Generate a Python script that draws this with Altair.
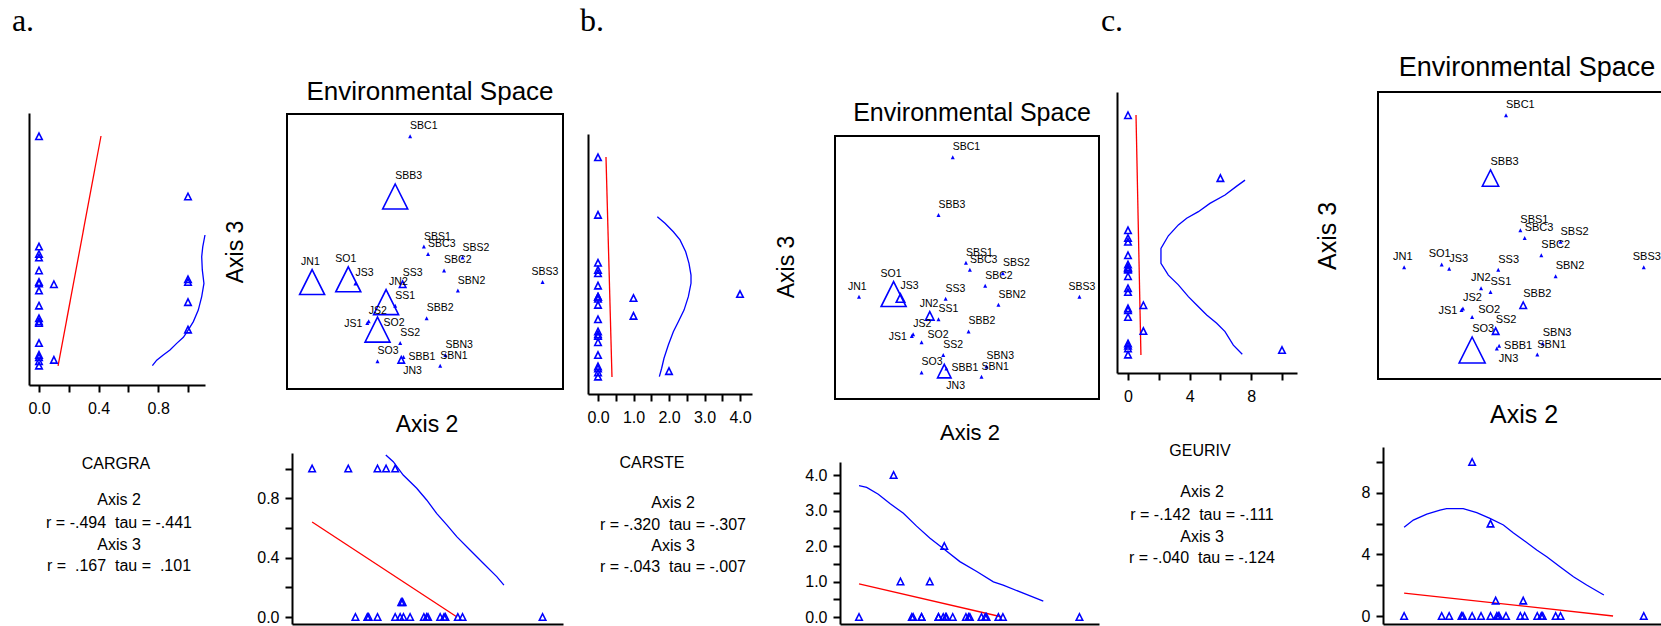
import json
import math
import altair as alt
import pandas as pd

FONT = "Liberation Sans"
SERIF = "Liberation Serif"
BLUE = "#0000ff"
RED = "#ff0000"
TRI = "M0,-1L1,1L-1,1Z"
W, H = 1661, 626

# ---------------- data ----------------
sites = ["JN1", "JN2", "JN3", "JS1", "JS2", "JS3", "SO1", "SO2", "SO3", "SS1", "SS2", "SS3",
         "SBC1", "SBC2", "SBC3", "SBB1", "SBB2", "SBB3", "SBS1", "SBS2", "SBS3", "SBN1", "SBN2", "SBN3"]
axis2 = [9.1, 35.9, 41.4, 29.1, 29.6, 24.8, 22.2, 32.8, 32.8, 39.2, 41.0, 41.9,
         44.6, 56.9, 51.1, 42.2, 50.6, 39.2, 49.6, 63.6, 92.6, 55.5, 61.9, 57.4]
axis3 = [38.9, 31.6, 10.6, 24.0, 24.6, 38.4, 39.9, 21.6, 10.1, 30.3, 16.7, 38.1,
         91.9, 43.1, 49.1, 11.6, 25.7, 70.0, 51.8, 47.8, 38.9, 8.5, 35.8, 12.4]
cargra = [1, 1, 0.1, 0, 0, 0, 1, 1, 0, 0, 0, 0.1, 0, 0, 0, 0, 0, 1, 0, 0, 0, 0, 0, 0]
carste = [0, 1, 2, 0, 0, 1, 4, 0, 0, 0, 0, 0, 0, 0, 0, 0, 0, 0, 0, 0, 0, 0, 0, 0]
geuriv = [0, 0, 0, 0, 0, 0, 0, 0, 10, 0, 1, 0, 0, 0, 0, 0, 1, 6, 0, 0, 0, 0, 0, 0]

# regression (red) and smoother (blue) lines
a_vred_x, a_vred_y = [0.128, 0.416], [8.4, 92.0]
a_vblue_x = [0.761, 0.790, 0.834, 0.879, 0.924, 0.969, 1.002, 1.036, 1.069, 1.092, 1.107, 1.096, 1.092, 1.099, 1.114]
a_vblue_y = [8.5, 10.5, 12.4, 14.2, 16.6, 18.8, 21.5, 24.5, 28.7, 33.6, 38.4, 43.3, 48.1, 51.7, 56.0]
a_bred_x, a_bred_y = [9.1, 61.6], [0.64, 0.0]
a_bblue_x = [35.8, 38.5, 42.1, 47.0, 50.6, 54.2, 57.9, 61.5, 66.3, 71.1, 76.0, 78.6]
a_bblue_y = [1.091, 1.046, 0.956, 0.867, 0.788, 0.698, 0.620, 0.541, 0.451, 0.362, 0.272, 0.215]

b_vred_x, b_vred_y = [0.225, 0.394], [92.0, 8.4]
b_vblue_x = [1.671, 1.887, 2.122, 2.310, 2.470, 2.563, 2.620, 2.620, 2.545, 2.423, 2.263, 2.122, 1.981, 1.859, 1.793, 1.728]
b_vblue_y = [69.3, 66.8, 63.6, 60.5, 56.0, 51.6, 47.1, 44.0, 38.9, 33.8, 29.4, 25.6, 20.5, 15.5, 11.7, 8.5]
b_bred_x, b_bred_y = [9.1, 63.3], [0.93, 0.0]
b_bblue_x = [9.1, 12.0, 16.4, 20.8, 25.9, 30.9, 36.0, 41.0, 47.3, 53.7, 60.0, 63.7, 71.3, 78.9]
b_bblue_y = [3.70, 3.65, 3.46, 3.20, 2.92, 2.56, 2.22, 1.93, 1.56, 1.28, 0.99, 0.90, 0.67, 0.45]

c_vred_x, c_vred_y = [0.52, 0.84], [92.0, 8.4]
c_vblue_x = [7.60, 7.06, 6.30, 5.32, 4.57, 3.81, 3.27, 2.62, 2.14, 2.14, 2.62, 3.27, 3.92, 4.46, 5.11, 5.76, 6.30, 6.84, 7.42]
c_vblue_y = [69.3, 67.2, 64.1, 61.2, 58.3, 56.0, 53.7, 49.9, 45.5, 40.3, 36.2, 32.8, 28.7, 25.8, 22.3, 19.4, 16.5, 11.8, 8.6]
c_bred_x, c_bred_y = [9.1, 81.9], [1.49, 0.0]
c_bblue_x = [9.1, 12.3, 17.0, 21.6, 23.9, 29.7, 34.4, 39.0, 43.7, 47.1, 50.6, 55.3, 58.8, 63.4, 68.1, 72.7, 78.7]
c_bblue_y = [5.76, 6.23, 6.62, 6.88, 6.97, 6.97, 6.71, 6.34, 5.91, 5.41, 4.94, 4.29, 3.85, 3.20, 2.55, 2.01, 1.36]

texts_a = ["CARGRA", "Axis 2", "r = -.494  tau = -.441", "Axis 3", "r =  .167  tau =  .101"]
texts_b = ["CARSTE", "Axis 2", "r = -.320  tau = -.307", "Axis 3", "r = -.043  tau = -.007"]
texts_c = ["GEURIV", "Axis 2", "r = -.142  tau = -.111", "Axis 3", "r = -.040  tau = -.124"]

# ---------------- layout (pixels) ----------------
GROUPS = [
    dict(letter="a.", var=cargra, vmax=1.0, smax=625, texts=texts_a,
         vred=(a_vred_x, a_vred_y), vblue=(a_vblue_x, a_vblue_y),
         bred=(a_bred_x, a_bred_y), bblue=(a_bblue_x, a_bblue_y),
         ex0=287, exppu=2.76, ey0=389, eyppu=2.75,
         vx=(29, 205), v0=39, vppu=149.0, vy=(113, 385),
         bx=(292, 563), b0=617, bppu=148.5, by=(453, 624),
         ticks=[0, 0.2, 0.4, 0.6, 0.8, 1.0], labeled=[0, 0.4, 0.8], fmt=".1f",
         letter_x=23, title=(430, 92, 26), ax3=(236, 252, 23), ax2=(427, 425, 23),
         name_xy=(116, 464), stat_x=119, stat_y=[500, 523, 545, 566], lab_fs=10.5),
    dict(letter="b.", var=carste, vmax=4.0, smax=625, texts=texts_b,
         vred=(b_vred_x, b_vred_y), vblue=(b_vblue_x, b_vblue_y),
         bred=(b_bred_x, b_bred_y), bblue=(b_bblue_x, b_bblue_y),
         ex0=835, exppu=2.64, ey0=399, eyppu=2.63,
         vx=(588, 752), v0=598, vppu=35.5, vy=(134, 394),
         bx=(840, 1099), b0=617, bppu=35.5, by=(462, 624),
         ticks=[0, 0.5, 1.0, 1.5, 2.0, 2.5, 3.0, 3.5, 4.0], labeled=[0, 1, 2, 3, 4], fmt=".1f",
         letter_x=592, title=(972, 113, 25), ax3=(787, 267, 23), ax2=(970, 433, 22),
         name_xy=(652, 463), stat_x=673, stat_y=[503, 525, 546, 567], lab_fs=10.5),
    dict(letter="c.", var=geuriv, vmax=10.0, smax=676, texts=texts_c,
         vred=(c_vred_x, c_vred_y), vblue=(c_vblue_x, c_vblue_y),
         bred=(c_bred_x, c_bred_y), bblue=(c_bblue_x, c_bblue_y),
         ex0=1378, exppu=2.87, ey0=379, eyppu=2.87,
         vx=(1117, 1297), v0=1128, vppu=15.4, vy=(92, 373),
         bx=(1383, 1665), b0=616, bppu=15.4, by=(447, 624),
         ticks=[0, 2, 4, 6, 8, 10], labeled=[0, 4, 8], fmt="d",
         letter_x=1112, title=(1527, 68, 27), ax3=(1328, 236, 25), ax2=(1524, 415, 25),
         name_xy=(1200, 451), stat_x=1202, stat_y=[492, 515, 537, 558], lab_fs=11),
]


def scale(dom, rng):
    return alt.Scale(domain=list(dom), range=list(rng), nice=False, zero=False)


def tick_axis(orient, offset, ticks, labeled, fmt, pad):
    expr = "indexof(%s, datum.value) >= 0 ? format(datum.value, '%s') : ''" % (json.dumps(labeled), fmt)
    return alt.Axis(orient=orient, offset=offset, values=ticks, labelExpr=expr, title=None,
                    grid=False, domainColor="black", domainWidth=2, tickColor="black",
                    tickWidth=2, tickSize=7, labelFont=FONT, labelFontSize=16,
                    labelColor="black", labelPadding=pad, labelOverlap=False, labelFlush=False)


def bare_axis(orient, offset):
    return alt.Axis(orient=orient, offset=offset, ticks=False, labels=False, title=None,
                    grid=False, domainColor="black", domainWidth=2)


def line_df(xs, ys, xname, yname):
    return pd.DataFrame({xname: xs, yname: ys, "i": list(range(len(xs)))})


def note(text, px, py, size, font=FONT, angle=0, baseline="middle", align="center"):
    return alt.Chart(pd.DataFrame({"t": [text.replace(" ", "\u00a0")]})).mark_text(
        font=font, fontSize=size, angle=angle, baseline=baseline, align=align, color="black"
    ).encode(x=alt.value(px), y=alt.value(py), text="t:N")


ZERO_SIZE = 16


def marker_w(v, vmax, smax):
    if v > 0:
        return math.sqrt(36 + (smax - 36) * (v / vmax) ** 2)
    return math.sqrt(ZERO_SIZE)


def label_offset(site, w):
    dx, by = 0.0, -(w / 2 + 5)
    if site == "JN1":
        dx = -11
    elif site == "SO1":
        dx = -13
    elif site == "SBS3":
        dx = -11
    elif site == "JN2":
        dx = -10 if w < 15 else 3
    elif site == "JS1":
        dx, by = -23, 4
    elif site == "SO2":
        dx, by = 6, -4
    elif site == "SBB1":
        dx, by = 5, 3
    elif site == "JN3":
        dx, by = 2, w / 2 + 11
    return dx, by


layers = []
for g in GROUPS:
    var = g["var"]
    pts = pd.DataFrame({"site": sites, "ax2": axis2, "ax3": axis3, "val": var})

    # ---------- vertical plot: variable vs Axis 3 ----------
    vx0, vx1 = g["vx"]
    vyt, vyb = g["vy"]
    vx_dom = ((vx0 - g["v0"]) / g["vppu"], (vx1 - g["v0"]) / g["vppu"])
    vy_dom = ((g["ey0"] - vyb) / g["eyppu"], (g["ey0"] - vyt) / g["eyppu"])
    VX = alt.X("val:Q", scale=scale(vx_dom, (vx0, vx1)),
               axis=tick_axis("bottom", vyb - H, g["ticks"], g["labeled"], g["fmt"], 8))
    VY = alt.Y("ax3:Q", scale=scale(vy_dom, (vyb, vyt)), axis=bare_axis("left", -vx0))
    v_red = alt.Chart(line_df(g["vred"][0], g["vred"][1], "val", "ax3")).mark_line(
        color=RED, strokeWidth=1.3).encode(x=VX, y=VY, order="i:Q")
    v_blue = alt.Chart(line_df(g["vblue"][0], g["vblue"][1], "val", "ax3")).mark_line(
        color=BLUE, strokeWidth=1.3).encode(x=VX, y=VY, order="i:Q")
    v_pts = alt.Chart(pts).mark_point(shape=TRI, filled=False, color=BLUE, size=42,
                                      strokeWidth=1.6, opacity=1).encode(x=VX, y=VY)
    layers.append(alt.layer(v_red, v_blue, v_pts))

    # ---------- environmental space ----------
    ex0, exppu, ey0, eyppu = g["ex0"], g["exppu"], g["ey0"], g["eyppu"]
    EX = alt.X("ax2:Q", scale=scale((0, 100), (ex0, ex0 + 100 * exppu)), axis=None)
    EY = alt.Y("ax3:Q", scale=scale((0, 100), (ey0, ey0 - 100 * eyppu)), axis=None)
    box = alt.Chart(pd.DataFrame({"ax2": [0], "ax3": [0], "ax2b": [100], "ax3b": [100]})).mark_rect(
        fillOpacity=0, stroke="black", strokeWidth=2).encode(x=EX, x2="ax2b:Q", y=EY, y2="ax3b:Q")
    zero = alt.Chart(pts[pts["val"] == 0]).mark_point(
        shape=TRI, filled=True, color=BLUE, size=ZERO_SIZE, opacity=1).encode(x=EX, y=EY)
    pos = alt.Chart(pts[pts["val"] > 0]).mark_point(
        shape=TRI, filled=False, color=BLUE, strokeWidth=1.6, opacity=1).encode(
        x=EX, y=EY,
        size=alt.Size("val:Q", scale=alt.Scale(type="pow", exponent=2, domain=[0, g["vmax"]],
                                               range=[36, g["smax"]]), legend=None))
    lx, ly = [], []
    for s, x, y, v in zip(sites, axis2, axis3, var):
        w = marker_w(v, g["vmax"], g["smax"])
        dx, by = label_offset(s, w)
        lx.append(x + dx / exppu)
        ly.append(y - by / eyppu)
    labs = alt.Chart(pd.DataFrame({"site": sites, "ax2": lx, "ax3": ly})).mark_text(
        align="left", baseline="alphabetic", font=FONT, fontSize=g["lab_fs"], color="black"
    ).encode(x=EX, y=EY, text="site:N")
    layers.append(alt.layer(box, zero, pos, labs))

    # ---------- bottom plot: Axis 2 vs variable ----------
    bx0, bx1 = g["bx"]
    byt, byb = g["by"]
    bx_dom = ((bx0 - ex0) / exppu, (bx1 - ex0) / exppu)
    by_dom = ((g["b0"] - byb) / g["bppu"], (g["b0"] - byt) / g["bppu"])
    BX = alt.X("ax2:Q", scale=scale(bx_dom, (bx0, bx1)), axis=bare_axis("bottom", byb - H))
    BY = alt.Y("val:Q", scale=scale(by_dom, (byb, byt)),
               axis=tick_axis("left", -bx0, g["ticks"], g["labeled"], g["fmt"], 6))
    b_red = alt.Chart(line_df(g["bred"][0], g["bred"][1], "ax2", "val")).mark_line(
        color=RED, strokeWidth=1.3).encode(x=BX, y=BY, order="i:Q")
    b_blue = alt.Chart(line_df(g["bblue"][0], g["bblue"][1], "ax2", "val")).mark_line(
        color=BLUE, strokeWidth=1.3).encode(x=BX, y=BY, order="i:Q")
    b_pts = alt.Chart(pts).mark_point(shape=TRI, filled=False, color=BLUE, size=42,
                                      strokeWidth=1.6, opacity=1).encode(x=BX, y=BY)
    layers.append(alt.layer(b_red, b_blue, b_pts))

    # ---------- text ----------
    layers.append(note(g["letter"], g["letter_x"], 31, 32, font=SERIF, baseline="alphabetic"))
    tx, ty, ts = g["title"]
    layers.append(note("Environmental Space", tx, ty, ts))
    ax, ay, asz = g["ax3"]
    layers.append(note("Axis 3", ax, ay, asz, angle=270))
    bx_, by_, bs = g["ax2"]
    layers.append(note("Axis 2", bx_, by_, bs))
    t = g["texts"]
    layers.append(note(t[0], g["name_xy"][0], g["name_xy"][1], 16))
    for line, yy in zip(t[1:], g["stat_y"]):
        layers.append(note(line, g["stat_x"], yy, 16))

chart = alt.layer(*layers).resolve_scale(
    x="independent", y="independent", size="independent"
).resolve_axis(
    x="independent", y="independent"
).properties(
    width=W, height=H, autosize=alt.AutoSizeParams(type="none"), padding=0
).configure_view(stroke=None)

chart.save("out.html", embed_options={"renderer": "svg", "actions": False})
